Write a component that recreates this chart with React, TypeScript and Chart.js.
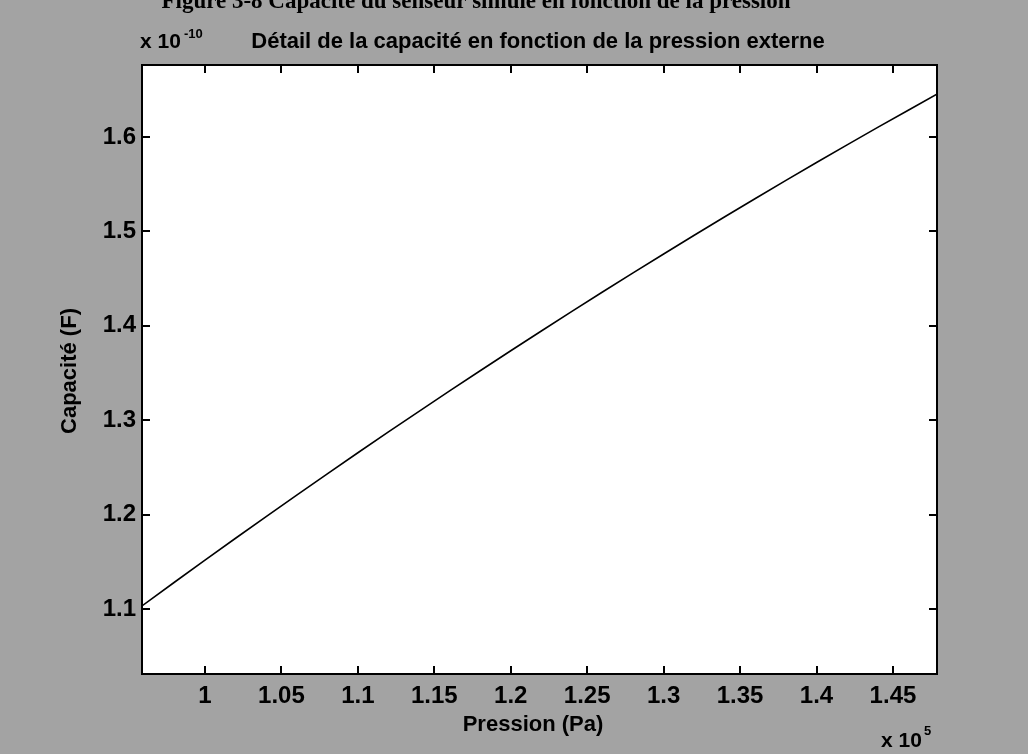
import React, { useEffect, useRef } from "react";
import { Chart, registerables } from "chart.js";

Chart.register(...registerables);

// Pression (x 10^5 Pa)
const pressure = [
  0.959, 0.98, 1.0, 1.02, 1.04, 1.06, 1.08, 1.1, 1.12, 1.14, 1.16, 1.18, 1.2,
  1.22, 1.24, 1.26, 1.28, 1.3, 1.32, 1.34, 1.36, 1.38, 1.4, 1.42, 1.44, 1.46,
  1.479,
];
// Capacité (x 10^-10 F)
const capacite = [
  1.1035, 1.1283, 1.1517, 1.1749, 1.1979, 1.2206, 1.2432, 1.2655, 1.2876,
  1.3094, 1.331, 1.3524, 1.3736, 1.3945, 1.4153, 1.4358, 1.4561, 1.4761,
  1.4959, 1.5155, 1.5349, 1.5541, 1.573, 1.5917, 1.6102, 1.6284, 1.6456,
];

const xTicks = [1, 1.05, 1.1, 1.15, 1.2, 1.25, 1.3, 1.35, 1.4, 1.45];
const xTickLabels = ["1", "1.05", "1.1", "1.15", "1.2", "1.25", "1.3", "1.35", "1.4", "1.45"];
const yTicks = [1.1, 1.2, 1.3, 1.4, 1.5, 1.6];
const yTickLabels = ["1.1", "1.2", "1.3", "1.4", "1.5", "1.6"];

const figureCaption = "Figure 3-8 Capacité du senseur simulé en fonction de la pression";
const plotTitle = "Détail de la capacité en fonction de la pression externe";
const xLabel = "Pression (Pa)";
const yLabel = "Capacité (F)";
const xExponent = "5";
const yExponent = "-10";

const SANS = '"Liberation Sans", Arial, sans-serif';

const framePlugin = {
  id: "matlabFrame",
  beforeDraw(chart: any) {
    const { ctx, chartArea: a, width, height } = chart;
    ctx.save();
    ctx.fillStyle = "#a3a3a3";
    ctx.fillRect(0, 0, width, height);
    ctx.fillStyle = "#ffffff";
    ctx.fillRect(a.left, a.top, a.right - a.left, a.bottom - a.top);
    ctx.restore();
  },
  afterDraw(chart: any) {
    const { ctx, chartArea: a } = chart;
    const xs = chart.scales.x;
    const ys = chart.scales.y;
    ctx.save();
    ctx.strokeStyle = "#000";
    ctx.lineWidth = 2;
    ctx.strokeRect(a.left, a.top, a.right - a.left, a.bottom - a.top);
    const tl = 8;
    ctx.lineWidth = 2;
    ctx.beginPath();
    xTicks.forEach((v) => {
      const px = Math.round(xs.getPixelForValue(v));
      ctx.moveTo(px, a.bottom);
      ctx.lineTo(px, a.bottom - tl);
      ctx.moveTo(px, a.top);
      ctx.lineTo(px, a.top + tl);
    });
    yTicks.forEach((v) => {
      const py = Math.round(ys.getPixelForValue(v));
      ctx.moveTo(a.left, py);
      ctx.lineTo(a.left + tl, py);
      ctx.moveTo(a.right, py);
      ctx.lineTo(a.right - tl, py);
    });
    ctx.stroke();

    ctx.fillStyle = "#000";
    // figure caption (cut by the top edge)
    ctx.font = 'bold 23px "Liberation Serif", "Times New Roman", serif';
    ctx.textAlign = "center";
    ctx.textBaseline = "alphabetic";
    ctx.fillText(figureCaption, 476, 8);

    // plot title
    ctx.font = `bold 22px ${SANS}`;
    ctx.textAlign = "center";
    ctx.fillText(plotTitle, 538, 48);

    // y exponent
    ctx.textAlign = "left";
    ctx.font = `bold 21px ${SANS}`;
    ctx.fillText("x 10", 140, 48);
    ctx.font = `bold 13px ${SANS}`;
    ctx.fillText(yExponent, 184, 38);

    // x exponent
    ctx.font = `bold 21px ${SANS}`;
    ctx.fillText("x 10", 881, 747);
    ctx.font = `bold 13px ${SANS}`;
    ctx.fillText(xExponent, 924, 735);

    // axis labels
    ctx.font = `bold 22px ${SANS}`;
    ctx.textAlign = "center";
    ctx.textBaseline = "middle";
    ctx.fillText(xLabel, 533, 725);
    ctx.save();
    ctx.translate(70, 371);
    ctx.rotate(-Math.PI / 2);
    ctx.fillText(yLabel, 0, 0);
    ctx.restore();
    ctx.restore();
  },
};

export default function App() {
  const ref = useRef<HTMLCanvasElement | null>(null);
  useEffect(() => {
    if (!ref.current) return;
    const chart = new Chart(ref.current, {
      type: "line",
      data: {
        datasets: [
          {
            data: pressure.map((p, i) => ({ x: p, y: capacite[i] })),
            borderColor: "#000",
            borderWidth: 1.6,
            pointRadius: 0,
            tension: 0,
            fill: false,
          },
        ],
      },
      options: {
        animation: false,
        responsive: false,
        maintainAspectRatio: false,
        events: [],
        layout: { padding: { top: 65, right: 91, left: 0, bottom: 0 } },
        plugins: { legend: { display: false }, tooltip: { enabled: false }, title: { display: false } },
        scales: {
          x: {
            type: "linear",
            min: 0.9588,
            max: 1.4788,
            border: { display: false },
            grid: { display: false, drawTicks: false },
            afterBuildTicks: (s: any) => {
              s.ticks = xTicks.map((v) => ({ value: v }));
            },
            afterFit: (s: any) => {
              s.height = 80;
            },
            ticks: {
              autoSkip: false,
              maxRotation: 0,
              padding: 8,
              color: "#000",
              font: { family: SANS, size: 24, weight: "bold" },
              callback: (v: any) => {
                const i = xTicks.findIndex((t) => Math.abs(t - v) < 1e-9);
                return i >= 0 ? xTickLabels[i] : "";
              },
            },
          },
          y: {
            type: "linear",
            min: 1.0311,
            max: 1.6763,
            border: { display: false },
            grid: { display: false, drawTicks: false },
            afterBuildTicks: (s: any) => {
              s.ticks = yTicks.map((v) => ({ value: v }));
            },
            afterFit: (s: any) => {
              s.width = 142;
            },
            ticks: {
              autoSkip: false,
              padding: 6,
              color: "#000",
              font: { family: SANS, size: 24, weight: "bold" },
              callback: (v: any) => {
                const i = yTicks.findIndex((t) => Math.abs(t - v) < 1e-9);
                return i >= 0 ? yTickLabels[i] : "";
              },
            },
          },
        },
      },
      plugins: [framePlugin],
    } as any);
    return () => chart.destroy();
  }, []);
  return (
    <div style={{ position: "fixed", left: 0, top: 0, width: 1028, height: 754 }}>
      <canvas ref={ref} width={1028} height={754} style={{ display: "block", width: 1028, height: 754 }} />
    </div>
  );
}
